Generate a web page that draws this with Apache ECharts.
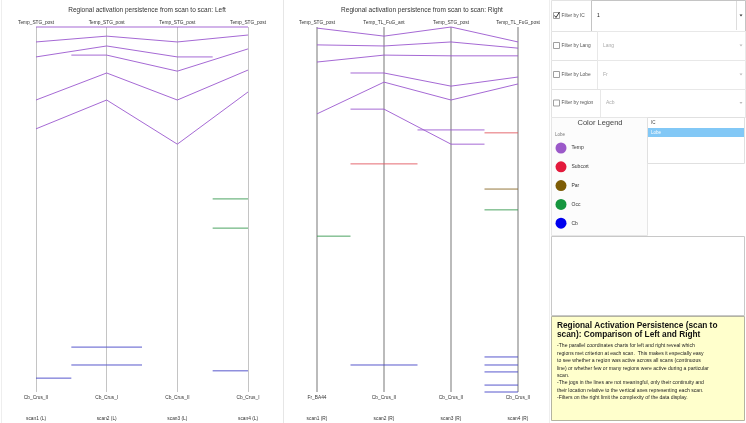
<!DOCTYPE html>
<html lang="en">
<head>
<meta charset="UTF-8">
<title>Regional activation persistence</title>
<script src="https://cdn.jsdelivr.net/npm/echarts@6.0.0/dist/echarts.min.js"></script>
<style>
    html, body { margin: 0; padding: 0; background: #fff; }
    #main { width: 746px; height: 423px; }
</style>
</head>
<body>
<div id="main"></div>
<script>
    // ---- data ----
    var scansL = ['scan1 (L)', 'scan2 (L)', 'scan3 (L)', 'scan4 (L)'];
    var scansR = ['scan1 (R)', 'scan2 (R)', 'scan3 (R)', 'scan4 (R)'];
    var topLabelsL = ['Temp_STG_post', 'Temp_STG_post', 'Temp_STG_post', 'Temp_STG_post'];
    var bottomLabelsL = ['Cb_Crus_II', 'Cb_Crus_I', 'Cb_Crus_II', 'Cb_Crus_I'];
    var topLabelsR = ['Temp_STG_post', 'Temp_TL_FuG_ant', 'Temp_STG_post', 'Temp_TL_FuG_post'];
    var bottomLabelsR = ['Fr_BA44', 'Cb_Crus_II', 'Cb_Crus_II', 'Cb_Crus_II'];

    // position on each scan axis (0 = top, 100 = bottom), null = not active in that scan
    var lobesL = ['Temp', 'Temp', 'Temp', 'Temp', 'Temp', 'Temp', 'Occ', 'Occ', 'Cb', 'Cb', 'Cb', 'Cb'];
    var regionsL = [
        [0, 0, 0, 0],
        [4.1, 2.5, 4.1, 2.2],
        [8.2, 5.2, 8.2, null],
        [null, 7.7, 12.1, 6.0],
        [20.0, 12.6, 20.0, 11.8],
        [27.9, 20.0, 32.1, 17.8],
        [null, null, null, 47.1],
        [null, null, null, 55.1],
        [96.2, null, null, null],
        [null, 87.7, null, null],
        [null, 92.6, null, null],
        [null, null, null, 94.2]
    ];
    var lobesR = ['Temp', 'Temp', 'Temp', 'Temp', 'Temp', 'Temp', 'Temp', 'Subcort', 'Subcort', 'Par', 'Occ', 'Occ',
        'Cb', 'Cb', 'Cb', 'Cb', 'Cb', 'Cb'];
    var regionsR = [
        [0.3, 2.5, 0, 4.1],
        [4.9, 5.2, 4.1, 5.8],
        [9.6, 7.7, 7.9, 7.9],
        [null, 12.6, 16.2, 13.7],
        [23.8, 15.1, 20.0, 15.6],
        [null, 22.5, 32.1, null],
        [null, null, 28.2, null],
        [null, null, null, 29.0],
        [null, 37.5, null, null],
        [null, null, null, 44.4],
        [null, null, null, 50.1],
        [57.3, null, null, null],
        [null, 92.6, null, null],
        [null, null, null, 90.4],
        [null, null, null, 92.6],
        [null, null, null, 94.5],
        [null, null, null, 98.1],
        [null, null, null, 100]
    ];
    var legendNames = ['Temp', 'Subcort', 'Par', 'Occ', 'Cb'];
    var lobeColors = {Temp: '#9b59c9', Subcort: '#e31a3c', Par: '#7d5c05', Occ: '#16963f', Cb: '#0000ee'};
    // lines are drawn a little softer than the legend dots
    var lineColors = {Temp: '#9b59cf', Subcort: '#e25a62', Par: '#8a6a2a', Occ: '#3a9a52', Cb: '#4646c8'};

    var filterLabels = ['Filter by IC', 'Filter by Lang', 'Filter by Lobe', 'Filter by region'];
    var filterValues = ['1', 'Lang', 'Fr', 'Acb'];
    var colorByList = ['IC', 'Lobe'];
    var noteTitle = 'Regional Activation Persistence (scan to\nscan): Comparison of Left and Right';
    var noteLines = [
        '-The parallel coordinates charts for left and right reveal which',
        'regions met criterion at each scan.  This makes it especially easy',
        'to see whether a region was active across all scans (continuous',
        'line) or whether few or many regions were active during a particular',
        'scan.',
        '-The jogs in the lines are not meaningful, only their continuity and',
        'their location relative to the vertical axes representing each scan.',
        '-Filters on the right limit the complexity of the data display.'
    ];

    var font = '"Liberation Sans", Arial, Helvetica, sans-serif';

    // a region missing on a neighbour scan gets a half-step stub
    function makeLines(rows, lobes, gi) {
        var list = [];
        rows.forEach(function (row, r) {
            var pts = [];
            row.forEach(function (v, i) {
                if (v == null) return;
                if (i > 0 && row[i - 1] == null) pts.push([i - 0.5, v]);
                pts.push([i, v]);
                if (i < row.length - 1 && row[i + 1] == null) pts.push([i + 0.5, v]);
            });
            list.push({
                name: lobes[r], type: 'line', xAxisIndex: gi * 3, yAxisIndex: gi,
                data: pts, symbol: 'none', showSymbol: false, silent: true, clip: false,
                itemStyle: {color: lobeColors[lobes[r]]},
                lineStyle: {color: lineColors[lobes[r]], width: 1, opacity: 0.9}, z: 3
            });
        });
        return list;
    }

    function scanAxes(gi, top, bottom, scans, axisColor, axisWidth) {
        var base = {
            type: 'value', gridIndex: gi, min: 0, max: 3, interval: 1,
            axisLine: {show: false}, axisTick: {show: false}, splitLine: {show: false}
        };
        var lab = {fontSize: 4.8, color: '#333', fontFamily: font, margin: 3};
        return [
            Object.assign({}, base, {
                position: 'bottom',
                splitLine: {show: true, lineStyle: {color: axisColor, width: axisWidth}},
                axisLabel: Object.assign({}, lab, {formatter: function (v) { return bottom[v]; }})
            }),
            Object.assign({}, base, {
                position: 'top',
                axisLabel: Object.assign({}, lab, {margin: 1.5, formatter: function (v) { return top[v]; }})
            }),
            Object.assign({}, base, {
                position: 'bottom', offset: 21,
                axisLabel: Object.assign({}, lab, {formatter: function (v) { return scans[v]; }})
            })
        ];
    }

    // ---- side panel ----
    var g = [];
    function rect(x, y, w, h, fill, stroke) {
        g.push({type: 'rect', silent: true, shape: {x: x, y: y, width: w, height: h},
            style: {fill: fill || 'none', stroke: stroke || null, lineWidth: 1}});
    }
    function line(x1, y1, x2, y2, color) {
        g.push({type: 'line', silent: true, shape: {x1: x1, y1: y1, x2: x2, y2: y2},
            style: {stroke: color, lineWidth: 1}});
    }
    function txt(x, y, t, size, color, extra) {
        g.push({type: 'text', silent: true, x: x, y: y,
            style: Object.assign({text: t, fontSize: size, fill: color, fontFamily: font,
                verticalAlign: 'middle', align: 'left'}, extra || {})});
    }

    line(1.5, 0, 1.5, 423, '#eeeeee');
    line(283.5, 0, 283.5, 423, '#e6e6e6');
    line(549.5, 0, 549.5, 423, '#eeeeee');

    var rowY = [0, 31, 60, 89, 117];
    var ddX = [591, 597, 597, 600];
    for (var i = 0; i < 4; i++) {
        var y0 = rowY[i], h = rowY[i + 1] - rowY[i], cy = y0 + h / 2;
        rect(551.5, y0 + 0.5, 194, h, '#fff', '#e3e3e3');
        rect(553.5, cy - 3, 6, 6, '#fff', '#a0a0a0');
        txt(561.5, cy, filterLabels[i], 4.8, '#555');
        rect(ddX[i] + 0.5, y0 + 0.5, 745 - ddX[i], h, '#fff', i === 0 ? '#c4c4c4' : '#e8e8e8');
        txt(ddX[i] + 6, cy, filterValues[i], 5, i === 0 ? '#111' : '#aaa');
        g.push({type: 'polygon', silent: true,
            shape: {points: [[739.5, cy - 1], [742.5, cy - 1], [741, cy + 1]]},
            style: {fill: i === 0 ? '#333' : '#bbb'}});
    }
    line(736.5, 1, 736.5, 30, '#dddddd');
    g.push({type: 'polyline', silent: true,
        shape: {points: [[554.5, 15.5], [556, 17.5], [559.5, 12]]},
        style: {stroke: '#333', lineWidth: 1, fill: null}});

    rect(551.5, 117.5, 96, 118, '#fcfcfc', '#e6e6e6');
    txt(600, 123, 'Color Legend', 7.5, '#444', {align: 'center'});
    txt(555, 135, 'Lobe', 4.5, '#777');
    rect(647.5, 117.5, 97, 46, '#fff', '#e0e0e0');
    txt(651, 122.5, colorByList[0], 4.5, '#444');
    rect(648, 128, 96, 9, '#82c8f6');
    txt(651, 132.5, colorByList[1], 4.5, '#fff');

    rect(551.5, 236.5, 193, 79, '#fff', '#c8c8c8');
    rect(551.5, 316.5, 193, 104, '#ffffcc', '#b4b4a0');
    txt(557, 321.5, noteTitle, 8.3, '#111',
        {fontWeight: 'bold', verticalAlign: 'top', lineHeight: 9});
    txt(557, 342.3, noteLines.join('\n'), 5.1, '#222',
        {verticalAlign: 'top', lineHeight: 7.4});

    // ---- chart ----
    var chart = echarts.init(document.getElementById('main'));
    var option = {
        animation: false,
        textStyle: {fontFamily: font},
        title: [
            {text: 'Regional activation persistence from scan to scan: Left', left: 142, top: 2, textAlign: 'center',
                textStyle: {fontSize: 6.5, fontWeight: 'normal', color: '#333', fontFamily: font}},
            {text: 'Regional activation persistence from scan to scan: Right', left: 417, top: 2, textAlign: 'center',
                textStyle: {fontSize: 6.5, fontWeight: 'normal', color: '#333', fontFamily: font}}
        ],
        legend: {
            data: legendNames, orient: 'vertical', left: 555.5, top: 142.5, padding: 0,
            itemWidth: 11, itemHeight: 11, itemGap: 7.8, icon: 'circle', selectedMode: false,
            textStyle: {fontSize: 5, color: '#333', fontFamily: font}
        },
        grid: [
            {left: 36, top: 27, width: 212, height: 365, outerBoundsMode: 'none'},
            {left: 317, top: 27, width: 201, height: 365, outerBoundsMode: 'none'}
        ],
        xAxis: scanAxes(0, topLabelsL, bottomLabelsL, scansL, '#c4c4c4', 1)
            .concat(scanAxes(1, topLabelsR, bottomLabelsR, scansR, '#b4b4b4', 1.8)),
        yAxis: [
            {type: 'value', gridIndex: 0, min: 0, max: 100, inverse: true, show: false},
            {type: 'value', gridIndex: 1, min: 0, max: 100, inverse: true, show: false}
        ],
        graphic: g,
        series: makeLines(regionsL, lobesL, 0).concat(makeLines(regionsR, lobesR, 1))
    };
    chart.setOption(option);
</script>
</body>
</html>
